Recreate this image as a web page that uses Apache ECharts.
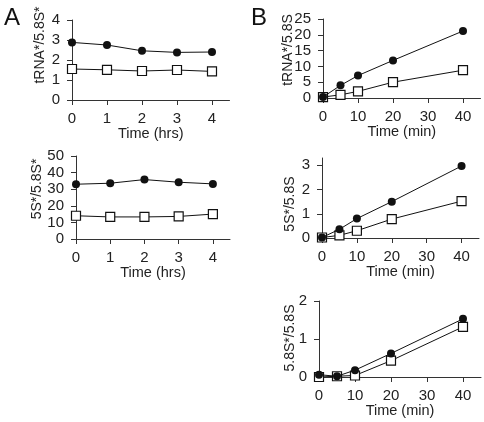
<!DOCTYPE html>
<html><head><meta charset="utf-8">
<script src="https://cdn.jsdelivr.net/npm/echarts@6/dist/echarts.min.js"></script>
<style>html,body{margin:0;padding:0;background:#fff}#c{width:484px;height:422px}</style>
</head><body><div id="c"></div>
<script>
// Panel A: time in hours
const hrs = [0, 1, 2, 3, 4];
const aTrnaFilled = [2.88, 2.75, 2.46, 2.38, 2.4];
const aTrnaOpen   = [1.55, 1.51, 1.45, 1.5, 1.43];
const a5sFilled   = [33.0, 33.6, 35.8, 34.2, 33.2];
const a5sOpen     = [14.0, 13.3, 13.3, 13.6, 15.0];
// Panel B: time in minutes
const mins = [0, 5, 10, 20, 40];
const bTrnaFilled = [0.3, 4.0, 7.1, 11.9, 21.2];
const bTrnaOpen   = [0.3, 1.0, 2.1, 5.0, 8.8];
const b5sFilled   = [0.02, 0.36, 0.8, 1.5, 2.97];
const b5sOpen     = [0.02, 0.11, 0.3, 0.78, 1.52];
const b58Filled   = [0.06, 0.02, 0.18, 0.62, 1.53];
const b58Open     = [0.0, 0.02, 0.04, 0.43, 1.32];
// tick labels
const hrTicks = [0, 1, 2, 3, 4];
const minTicks = [0, 10, 20, 30, 40];
const yTicksA1 = [0, 1, 2, 3, 4];
const yTicksA2 = [0, 10, 20, 30, 40, 50];
const yTicksB1 = [0, 5, 10, 15, 20, 25];
const yTicksB2 = [0, 1, 2, 3];
const yTicksB3 = [0, 1, 2];

const FONT = 'Liberation Sans, Arial, sans-serif';
const TXT = '#222';
const AX = '#333';
const pair = (xs, ys) => xs.map((x, i) => [x, ys[i]]);

const grids = [
  {left: 72, top: 20, width: 157.5, height: 80},
  {left: 76, top: 156, width: 154, height: 83},
  {left: 323, top: 19, width: 157.5, height: 79},
  {left: 322, top: 158, width: 157, height: 80},
  {left: 319, top: 301, width: 162, height: 76}
];
const xDefs = [
  {max: 4.5, ticks: hrTicks, name: 'Time (hrs)'},
  {max: 4.5, ticks: hrTicks, name: 'Time (hrs)'},
  {max: 45, ticks: minTicks, name: 'Time (min)'},
  {max: 45, ticks: minTicks, name: 'Time (min)'},
  {max: 45, ticks: minTicks, name: 'Time (min)'}
];
const yDefs = [
  {max: 4, ticks: yTicksA1},
  {max: 50, ticks: yTicksA2},
  {max: 25, ticks: yTicksB1},
  {max: 3.3, ticks: yTicksB2},
  {max: 2, ticks: yTicksB3}
];
const seriesDefs = [
  [pair(hrs, aTrnaFilled), pair(hrs, aTrnaOpen)],
  [pair(hrs, a5sFilled), pair(hrs, a5sOpen)],
  [pair(mins, bTrnaFilled), pair(mins, bTrnaOpen)],
  [pair(mins, b5sFilled), pair(mins, b5sOpen)],
  [pair(mins, b58Filled), pair(mins, b58Open)]
];

const lineStyleAx = {show: true, lineStyle: {color: AX, width: 1}};
const tickStyle = {length: 5, lineStyle: {color: AX, width: 1}};
const labelStyle = {color: TXT, fontFamily: FONT, fontSize: 15};

const xAxis = xDefs.map((d, i) => ({
  type: 'value', gridIndex: i, min: 0, max: d.max,
  name: d.name, nameLocation: 'middle', nameGap: 24,
  nameTextStyle: {color: TXT, fontFamily: FONT, fontSize: 14.5},
  axisLine: lineStyleAx,
  axisTick: Object.assign({show: true, customValues: d.ticks}, tickStyle),
  splitLine: {show: false},
  axisLabel: Object.assign({customValues: d.ticks, margin: 11}, labelStyle)
}));
const yAxis = yDefs.map((d, i) => ({
  type: 'value', gridIndex: i, min: 0, max: d.max,
  axisLine: lineStyleAx,
  axisTick: Object.assign({show: true, customValues: d.ticks}, tickStyle),
  splitLine: {show: false},
  axisLabel: Object.assign({customValues: d.ticks, margin: 12}, labelStyle)
}));

const series = [];
seriesDefs.forEach((s, i) => {
  series.push({
    type: 'line', xAxisIndex: i, yAxisIndex: i, data: s[1],
    symbol: 'rect', symbolSize: 9, z: 3,
    lineStyle: {color: '#111', width: 1},
    itemStyle: {color: '#fff', borderColor: '#111', borderWidth: 1.2},
    animation: false
  });
  series.push({
    type: 'line', xAxisIndex: i, yAxisIndex: i, data: s[0],
    symbol: 'circle', symbolSize: 8, z: 4,
    lineStyle: {color: '#111', width: 1},
    itemStyle: {color: '#111', borderColor: '#111', borderWidth: 0},
    animation: false
  });
});

const yNames = [
  {t: 'tRNA*/5.8S*', x: 40, y: 45},
  {t: '5S*/5.8S*', x: 37, y: 189},
  {t: 'tRNA*/5.8S', x: 288, y: 50},
  {t: '5S*/5.8S', x: 290, y: 204},
  {t: '5.8S*/5.8S', x: 290, y: 338}
];
const graphic = yNames.map(n => ({
  type: 'text', x: n.x, y: n.y, rotation: Math.PI / 2,
  style: {text: n.t, fill: TXT, font: '14px ' + FONT, align: 'center', verticalAlign: 'middle'}
}));
graphic.push({type: 'text', left: 4, top: 6, style: {text: 'A', fill: '#111', font: '24px ' + FONT}});
graphic.push({type: 'text', left: 251, top: 6, style: {text: 'B', fill: '#111', font: '24px ' + FONT}});

const chart = echarts.init(document.getElementById('c'), null, {renderer: 'canvas'});
chart.setOption({
  animation: false,
  backgroundColor: '#fff',
  grid: grids,
  xAxis: xAxis,
  yAxis: yAxis,
  series: series,
  graphic: graphic
});
</script></body></html>
